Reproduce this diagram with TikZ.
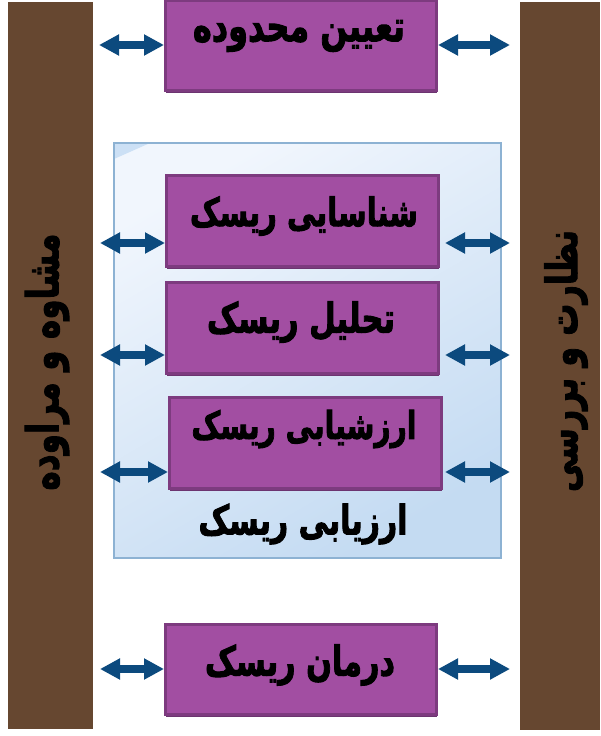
\documentclass[tikz,border=0pt]{standalone}
\usepackage{fontspec}
\usetikzlibrary{arrows.meta,shadows}
\TeXXeTstate=1
\newfontfamily\heavyfont[Script=Arabic,FakeBold=2.5]{DejaVu Sans Bold}
\definecolor{barbrown}{HTML}{664730}
\definecolor{boxpurple}{HTML}{A24EA2}
\definecolor{boxedge}{HTML}{7D3B7F}
\definecolor{boxshade}{HTML}{6C3470}
\definecolor{arrowblue}{HTML}{0C4A7E}
\definecolor{paneltop}{HTML}{F1F6FD}
\definecolor{panelbottom}{HTML}{C4DBF2}
\definecolor{paneledge}{HTML}{8DB2D3}
\definecolor{panelcorner}{HTML}{CCE0F5}
% fit a label to a given width, set a little taller than the font
\newcommand{\fatext}[2]{\scalebox{1}[1.35]{\resizebox{#1pt}{!}{\heavyfont #2}}}
\tikzset{
  sidebar/.style={fill=barbrown, draw=none},
  stagebox/.style={fill=boxpurple, draw=boxedge, line width=3pt,
    drop shadow={shadow xshift=0.5pt, shadow yshift=-2.5pt, fill=boxshade, opacity=1}},
  label/.style={inner sep=0pt, text=black},
  biarrow/.style={draw=arrowblue, line width=8pt,
    {Triangle[length=20pt,width=20pt]}-{Triangle[length=20pt,width=20pt]}},
}
\begin{document}
\begin{tikzpicture}[x=1pt, y=-1pt]
\useasboundingbox (0,0) rectangle (600,736);
\clip (0,0) rectangle (600,736);

% side bars
\path[sidebar] (8,2) rectangle (93,729);
\path[sidebar] (520,2) rectangle (600,730);
\node[label, rotate=90] (consult) at (47,362) {\fatext{257}{\beginR مشاوه و مراوده\endR}};
\node[label, rotate=90] (monitor) at (566,361) {\fatext{262}{\beginR نظارت و بررسی\endR}};

% assessment panel
\path[top color=paneltop, bottom color=panelbottom, shading angle=30]
  (113,142) rectangle (500,557);
\fill[panelcorner] (114,143) -- (150,143) -- (114,159) -- cycle;
\node[draw=paneledge, line width=2pt, minimum width=387pt, minimum height=415pt,
  inner sep=0pt, anchor=north west] (panel) at (113,142) {};
\node[label] (paneltitle) at (303,524) {\fatext{209}{\beginR ارزیابی ریسک\endR}};

% stage boxes
\node[stagebox, minimum width=271pt, minimum height=90pt, anchor=north west, inner sep=0pt] (b1) at (164,-1) {};
\node[stagebox, minimum width=272pt, minimum height=91pt, anchor=north west, inner sep=0pt] (b2) at (165,174) {};
\node[stagebox, minimum width=272pt, minimum height=91pt, anchor=north west, inner sep=0pt] (b3) at (165,281) {};
\node[stagebox, minimum width=272pt, minimum height=91pt, anchor=north west, inner sep=0pt] (b4) at (168,396) {};
\node[stagebox, minimum width=271pt, minimum height=90pt, anchor=north west, inner sep=0pt] (b5) at (164,623) {};

\node[label] (t1) at (299,36) {\fatext{212}{\beginR تعیین محدوده\endR}};
\node[label] (t2) at (304,216) {\fatext{228}{\beginR شناسایی ریسک\endR}};
\node[label] (t3) at (301,322) {\fatext{188}{\beginR تحلیل ریسک\endR}};
\node[label] (t4) at (304,429) {\fatext{225}{\beginR ارزشیابی ریسک\endR}};
\node[label] (t5) at (300,665) {\fatext{190}{\beginR درمان ریسک\endR}};

% arrow ends next to the bars
\coordinate (L1) at (99,45);   \coordinate (R1) at (510,45);
\coordinate (L2) at (100,243); \coordinate (R2) at (510,243);
\coordinate (L3) at (100,355); \coordinate (R3) at (510,355);
\coordinate (L4) at (100,472); \coordinate (R4) at (510,472);
\coordinate (L5) at (100,669); \coordinate (R5) at (510,669);

\draw[biarrow] (L1) -- (L1 -| b1.west);
\draw[biarrow] (R1) -- (R1 -| b1.east);
\draw[biarrow] (L2) -- (L2 -| b2.west);
\draw[biarrow, shorten >=5pt] (R2) -- (R2 -| b2.east);
\draw[biarrow] (L3) -- (L3 -| b3.west);
\draw[biarrow, shorten >=5pt] (R3) -- (R3 -| b3.east);
\draw[biarrow] (L4) -- (L4 -| b4.west);
\draw[biarrow, shorten >=2pt] (R4) -- (R4 -| b4.east);
\draw[biarrow] (L5) -- (L5 -| b5.west);
\draw[biarrow] (R5) -- (R5 -| b5.east);
\end{tikzpicture}
\end{document}
